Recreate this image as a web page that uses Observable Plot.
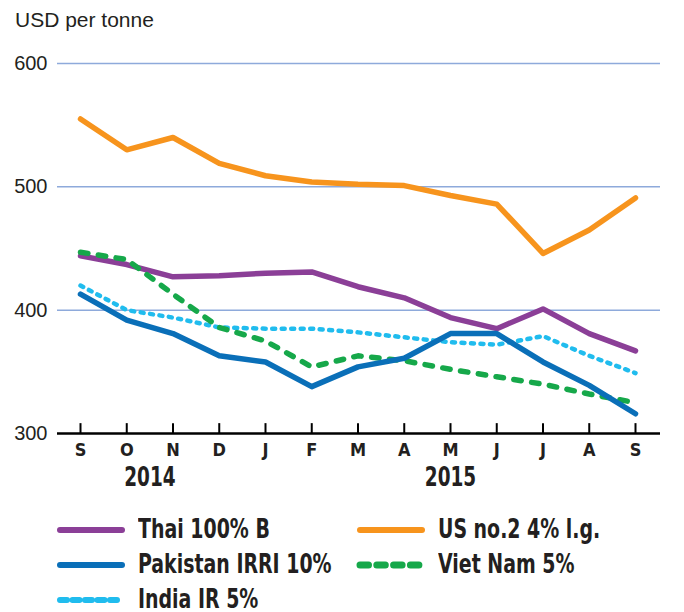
<!DOCTYPE html>
<html>
<head>
<meta charset="utf-8">
<script src="https://cdn.jsdelivr.net/npm/d3@7"></script>
<script src="https://cdn.jsdelivr.net/npm/@observablehq/plot@0.6"></script>
<style>
  html, body { margin: 0; padding: 0; background: #fff; }
  #wrap { position: relative; width: 684px; height: 612px; overflow: hidden; color: #231f20; }
  #title { position: absolute; left: 15px; top: 9px; font: 21px/21px "Liberation Sans", Arial, sans-serif; }
  #chart { position: absolute; left: 0; top: 0; }
  .lg { position: absolute; }
  .lgtext { position: absolute; font: bold 27px/22px "DejaVu Sans Condensed", sans-serif; white-space: nowrap;
            transform: scaleX(0.78); transform-origin: 0 50%; }
</style>
</head>
<body>
<div id="wrap">
  <div id="chart"></div>
  <div id="title">USD per tonne</div>
</div>
<script>
const months = ["S","O","N","D","J","F","M","A","M","J","J","A","S"];
const years = ["2014", "2015"];
const yearAt = [1.5, 8];
const yTicks = [300, 400, 500, 600];

const seriesNames = ["Thai 100% B", "US no.2 4% l.g.", "Pakistan IRRI 10%", "Viet Nam 5%", "India IR 5%"];
const thai     = [444, 437, 427, 428, 430, 431, 419, 410, 394, 385, 401, 381, 367];
const us       = [555, 530, 540, 519, 509, 504, 502, 501, 493, 486, 446, 465, 491];
const pakistan = [413, 392, 381, 363, 358, 338, 354, 361, 381, 381, 358, 339, 316];
const vietnam  = [447, 441, 413, 386, 375, 354, 363, 359, 352, 346, 340, 332, 325];
const india    = [420, 400, 394, 386, 385, 385, 382, 378, 374, 372, 379, 363, 349];

const styles = {
  "Thai 100% B":       {color: "#8b3f97", dash: null},
  "US no.2 4% l.g.":   {color: "#f7941d", dash: null},
  "Pakistan IRRI 10%": {color: "#0a6fb8", dash: null},
  "Viet Nam 5%":       {color: "#16a84a", dash: "7.5,10.5"},
  "India IR 5%":       {color: "#20bcee", dash: "3,6.5"}
};
const valuesBy = {
  "Thai 100% B": thai, "US no.2 4% l.g.": us, "Pakistan IRRI 10%": pakistan,
  "Viet Nam 5%": vietnam, "India IR 5%": india
};
const drawOrder = ["India IR 5%", "Thai 100% B", "Viet Nam 5%", "Pakistan IRRI 10%", "US no.2 4% l.g."];
const idx = months.map((_, i) => i);

const font = '"DejaVu Sans Condensed", sans-serif';

const lineMarks = drawOrder.map(name => {
  const s = styles[name];
  const data = valuesBy[name].map((v, i) => ({i, v}));
  return Plot.line(data, {
    x: "i", y: "v", stroke: s.color, strokeWidth: name === "India IR 5%" ? 4.5 : 5.5,
    strokeDasharray: s.dash, strokeLinecap: "round", strokeLinejoin: "round"
  });
});

const plot = Plot.plot({
  width: 684,
  height: 490,
  marginTop: 63,
  marginBottom: 57,
  marginLeft: 57,
  marginRight: 24,
  style: {background: "transparent", color: "#231f20", overflow: "visible"},
  x: {type: "linear", domain: [0, 12], range: [80, 635]},
  y: {domain: [300, 600]},
  marks: [
    Plot.ruleY(yTicks.filter(t => t > 300), {stroke: "#8eaadb", strokeWidth: 1.5}),
    Plot.axisY({ticks: yTicks, tickSize: 0, tickPadding: 10, label: null,
      fontSize: 20, fontFamily: '"Liberation Sans", Arial, sans-serif', fill: "#231f20"}),
    Plot.axisX({ticks: idx, tickSize: 0, tickPadding: 10, label: null,
      tickFormat: i => months[i], fontSize: 18, fontWeight: "bold", fontFamily: font, fill: "#231f20"}),
    Plot.ruleX(idx, {x: d => d, y1: 300, y2: 308, stroke: "#000", strokeWidth: 2}),
    Plot.ruleY([300], {stroke: "#000", strokeWidth: 2.5}),
    Plot.text(years, {x: (d, i) => yearAt[i], frameAnchor: "bottom", dy: 44, text: d => d,
      fontSize: 27, fontWeight: "bold", fontFamily: font, fill: "#231f20", lineAnchor: "middle"}),
    ...lineMarks
  ]
});
document.getElementById("chart").appendChild(plot);

// condense the year labels to match the narrow bold face of the original
d3.select(plot).selectAll("text").each(function() {
  if (years.includes(this.textContent)) {
    const w = this.getComputedTextLength();
    this.setAttribute("textLength", (w * 0.76).toFixed(1));
    this.setAttribute("lengthAdjust", "spacingAndGlyphs");
  }
});

// Legend
const legendItems = [
  {name: "Thai 100% B", col: 0, row: 0},
  {name: "US no.2 4% l.g.", col: 1, row: 0},
  {name: "Pakistan IRRI 10%", col: 0, row: 1},
  {name: "Viet Nam 5%", col: 1, row: 1},
  {name: "India IR 5%", col: 0, row: 2}
];
const colX = [60, 360];
const rowY = [530, 565, 600];
const wrap = document.getElementById("wrap");
legendItems.forEach(it => {
  const s = styles[it.name];
  const sx = colX[it.col], sy = rowY[it.row];
  const svg = d3.create("svg").attr("class", "lg").attr("width", 70).attr("height", 14)
    .style("left", (sx - 4) + "px").style("top", (sy - 7) + "px");
  svg.append("line").attr("x1", 4).attr("x2", 66).attr("y1", 7).attr("y2", 7)
    .attr("stroke", s.color).attr("stroke-width", it.name === "Viet Nam 5%" ? 7 : 6)
    .attr("stroke-linecap", "round")
    .attr("stroke-dasharray", it.name === "Viet Nam 5%" ? "8.5,8.3" : it.name === "India IR 5%" ? "7,5.5" : null);
  wrap.appendChild(svg.node());
  const t = document.createElement("div");
  t.className = "lgtext";
  t.textContent = it.name;
  t.style.left = (sx + 78) + "px";
  t.style.top = (sy - 2 - 10.5) + "px";
  wrap.appendChild(t);
});
</script>
</body>
</html>
